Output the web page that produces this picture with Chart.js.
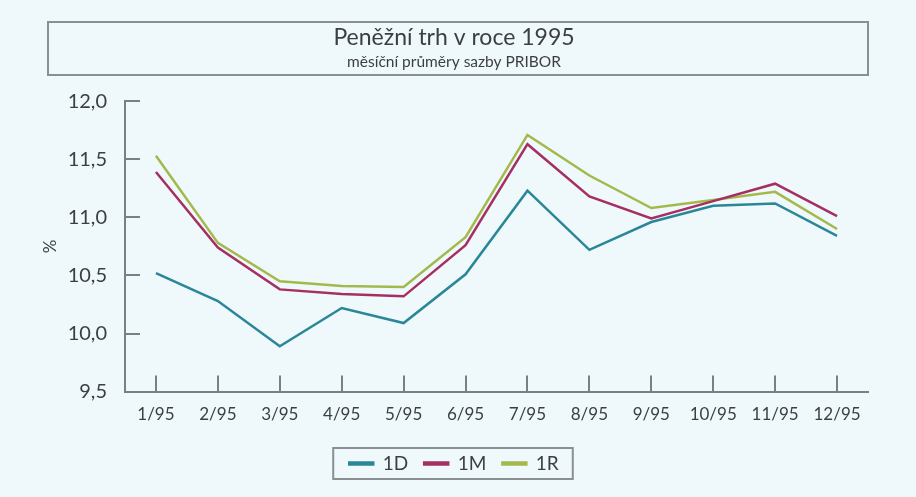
<!DOCTYPE html>
<html>
<head>
<meta charset="utf-8">
<script src="https://cdn.jsdelivr.net/npm/chart.js@4/dist/chart.umd.min.js"></script>
<style>
  html, body { margin: 0; padding: 0; background: #eff8fa; }
  #wrap { width: 916px; height: 497px; }
</style>
</head>
<body>
<div id="wrap"><canvas id="c" width="916" height="497"></canvas></div>
<script>
const months = ['1/95','2/95','3/95','4/95','5/95','6/95','7/95','8/95','9/95','10/95','11/95','12/95'];
const rate1D = [10.52, 10.28, 9.89, 10.22, 10.09, 10.51, 11.23, 10.72, 10.96, 11.10, 11.12, 10.84];
const rate1M = [11.39, 10.74, 10.38, 10.34, 10.32, 10.76, 11.63, 11.18, 10.99, 11.14, 11.29, 11.01];
const rate1R = [11.53, 10.78, 10.45, 10.41, 10.40, 10.83, 11.71, 11.36, 11.08, 11.15, 11.22, 10.90];
const yTicks = [9.5, 10.0, 10.5, 11.0, 11.5, 12.0];
const titleText = 'Peněžní trh v roce 1995';
const subtitleText = 'měsíční průměry sazby PRIBOR';

const FONT = 'Lato, "Open Sans", sans-serif';
const AXIS = '#7a7f82';
const TEXT = '#3c3f42';

const bgPlugin = {
  id: 'bg',
  beforeDraw(chart) {
    const ctx = chart.ctx;
    ctx.save();
    ctx.fillStyle = '#eff8fa';
    ctx.fillRect(0, 0, chart.width, chart.height);
    // title frame
    ctx.strokeStyle = '#8a8f92';
    ctx.lineWidth = 2;
    ctx.strokeRect(48, 22, chart.width - 96, 53);
    ctx.restore();
  },
  afterDraw(chart) {
    const ctx = chart.ctx;
    const lg = chart.legend;
    if (lg && lg.legendHitBoxes && lg.legendHitBoxes.length) {
      const boxes = lg.legendHitBoxes;
      const l = Math.min(...boxes.map(b => b.left)) - 16;
      const r = Math.max(...boxes.map(b => b.left + b.width)) + 14;
      const t = Math.min(...boxes.map(b => b.top)) - 6;
      const bt = Math.max(...boxes.map(b => b.top + b.height)) + 6;
      ctx.save();
      ctx.strokeStyle = '#8a8f92';
      ctx.lineWidth = 2;
      ctx.strokeRect(l, t, r - l, bt - t);
      ctx.restore();
    }
  },
  afterDatasetsDraw(chart) {
    const ctx = chart.ctx;
    const xs = chart.scales.x, ys = chart.scales.y;
    ctx.save();
    ctx.strokeStyle = AXIS;
    ctx.lineWidth = 2;
    ctx.beginPath();
    for (let i = 0; i < months.length; i++) {
      const px = Math.round(xs.getPixelForValue(i));
      ctx.moveTo(px, ys.bottom);
      ctx.lineTo(px, ys.bottom - 16);
    }
    yTicks.forEach(v => {
      if (v === yTicks[0]) return;
      const py = Math.round(ys.getPixelForValue(v));
      ctx.moveTo(xs.left, py);
      ctx.lineTo(xs.left + 15, py);
    });
    ctx.stroke();
    ctx.restore();
  }
};

new Chart(document.getElementById('c'), {
  type: 'line',
  data: {
    labels: months,
    datasets: [
      { label: '1D', data: rate1D, borderColor: '#2a8798', backgroundColor: '#2a8798' },
      { label: '1M', data: rate1M, borderColor: '#a52f62', backgroundColor: '#a52f62' },
      { label: '1R', data: rate1R, borderColor: '#a4b94c', backgroundColor: '#a4b94c' }
    ]
  },
  options: {
    responsive: false,
    animation: false,
    layout: { padding: { left: 40, right: 48, top: 0, bottom: 14 } },
    elements: {
      line: { borderWidth: 2.5, tension: 0 },
      point: { radius: 0 }
    },
    plugins: {
      tooltip: { enabled: false },
      title: {
        display: true,
        text: titleText,
        color: TEXT,
        font: { family: FONT, size: 23, weight: 'normal' },
        padding: { top: 24, bottom: 1 }
      },
      subtitle: {
        display: true,
        text: subtitleText,
        color: TEXT,
        font: { family: FONT, size: 15.5, weight: 'normal' },
        padding: { top: 0, bottom: 30 }
      },
      legend: {
        position: 'bottom',
        labels: {
          color: TEXT,
          font: { family: FONT, size: 19 },
          boxWidth: 24,
          boxHeight: 2,
          padding: 16
        }
      }
    },
    scales: {
      x: {
        type: 'category',
        offset: true,
        grid: { display: false, drawTicks: false },
        border: { display: true, color: AXIS, width: 2 },
        ticks: { color: TEXT, font: { family: FONT, size: 17 }, padding: 13, maxRotation: 0, autoSkip: false }
      },
      y: {
        min: 9.5,
        max: 12.0,
        afterBuildTicks(scale) { scale.ticks = yTicks.map(v => ({ value: v })); },
        afterFit(scale) { scale.width = 85; },
        grid: { display: false, drawTicks: false },
        border: { display: true, color: AXIS, width: 2 },
        title: { display: true, text: '%', color: TEXT, font: { family: FONT, size: 17 }, padding: 0 },
        ticks: {
          color: TEXT,
          font: { family: FONT, size: 20 },
          padding: 18,
          callback: v => Number(v).toFixed(1).replace('.', ',')
        }
      }
    }
  },
  plugins: [bgPlugin]
});
</script>
</body>
</html>
